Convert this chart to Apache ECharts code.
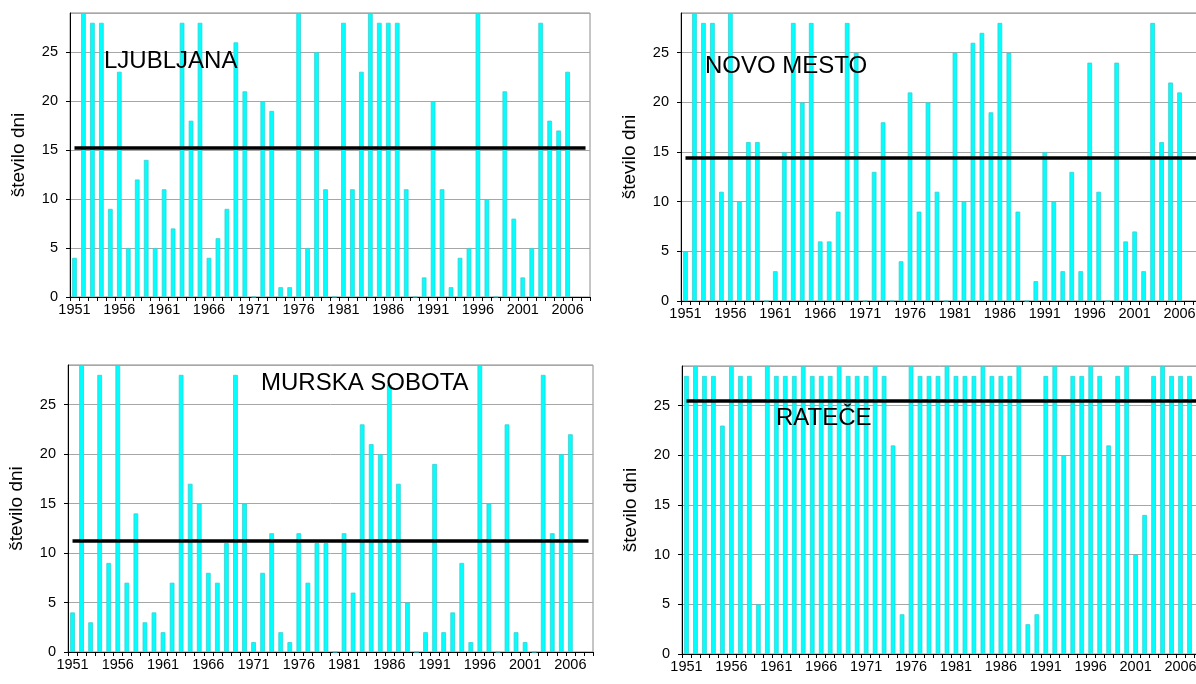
<!DOCTYPE html>
<html><head><meta charset="utf-8">
<script src="https://cdn.jsdelivr.net/npm/echarts@6/dist/echarts.min.js"></script>
<style>html,body{margin:0;padding:0;background:#fff;overflow:hidden}#c{width:1196px;height:684px}</style>
</head><body><div id="c"></div>
<script>
const years = ['1951','1952','1953','1954','1955','1956','1957','1958','1959','1960',
  '1961','1962','1963','1964','1965','1966','1967','1968','1969','1970',
  '1971','1972','1973','1974','1975','1976','1977','1978','1979','1980',
  '1981','1982','1983','1984','1985','1986','1987','1988','1989','1990',
  '1991','1992','1993','1994','1995','1996','1997','1998','1999','2000',
  '2001','2002','2003','2004','2005','2006','2007','2008'];

const ljubljana = [4,29,28,28,9,23,5,12,14,5, 11,7,28,18,28,4,6,9,26,21, 0,20,19,1,1,29,5,25,11,0,
  28,11,23,29,28,28,28,11,0,2, 20,11,1,4,5,29,10,0,21,8, 2,5,28,18,17,23, null,null];
const novoMesto = [5,29,28,28,11,29,10,16,16,0, 3,15,28,20,28,6,6,9,28,25, 0,13,18,0,4,21,9,20,11,0,
  25,10,26,27,19,28,25,9,0,2, 15,10,3,13,3,24,11,0,24,6, 7,3,28,16,22,21, null,null];
const murskaSobota = [4,29,3,28,9,29,7,14,3,4, 2,7,28,17,15,8,7,11,28,15, 1,8,12,2,1,12,7,11,11,0,
  12,6,23,21,20,27,17,5,0,2, 19,2,4,9,1,29,15,0,23,2, 1,0,28,12,20,22, null,null];
const ratece = [28,29,28,28,23,29,28,28,5,29, 28,28,28,29,28,28,28,29,28,28, 28,29,28,21,4,29,28,28,28,29,
  28,28,28,29,28,28,28,29,3,4, 28,29,20,28,28,29,28,21,28,29, 10,14,28,29,28,28,28,null];

const ljubljanaMean = 15.23;
const novoMestoMean = 14.45;
const murskaSobotaMean = 11.2;
const rateceMean = 25.55;

const stationNames = ['LJUBLJANA', 'NOVO MESTO', 'MURSKA SOBOTA', 'RATEČE'];
const yTicks = [0, 5, 10, 15, 20, 25];
const yMax = 29;
const yTitle = 'število dni';

const FONT = "'Liberation Sans', Arial, sans-serif";
const grids = [
  {left: 70, top: 13, width: 520, height: 284},
  {left: 681, top: 13, width: 521, height: 288},
  {left: 68, top: 365, width: 525, height: 287},
  {left: 682, top: 366, width: 521, height: 288}
];
const seriesData = [ljubljana, novoMesto, murskaSobota, ratece];
const means = [ljubljanaMean, novoMestoMean, murskaSobotaMean, rateceMean];

const option = {
  animation: false,
  backgroundColor: '#fff',
  grid: grids.map(g => Object.assign({show: true, borderColor: '#8a8a8a', borderWidth: 1,
    backgroundColor: 'transparent', containLabel: false, outerBoundsMode: 'none'}, g)),
  xAxis: grids.map((g, i) => ({
    type: 'category', gridIndex: i, data: years, boundaryGap: true,
    axisLine: {lineStyle: {color: '#000', width: 1}},
    axisTick: {show: true, interval: 0, length: 4, lineStyle: {color: '#000'}},
    axisLabel: {interval: 4, color: '#000', fontFamily: FONT, fontSize: 14.5, margin: 5, hideOverlap: false},
    splitLine: {show: false}
  })),
  yAxis: grids.map((g, i) => ({
    type: 'value', gridIndex: i, min: 0, max: yMax, interval: 5,
    name: yTitle, nameLocation: 'middle', nameGap: 42, nameRotate: 90,
    nameTextStyle: {color: '#000', fontFamily: FONT, fontSize: 19},
    axisLine: {show: true, lineStyle: {color: '#000', width: 1}},
    axisTick: {show: true, length: 4, lineStyle: {color: '#000'}},
    axisLabel: {color: '#000', fontFamily: FONT, fontSize: 14.5, margin: 12, showMaxLabel: false,
      formatter: v => (yTicks.indexOf(v) >= 0 ? String(v) : '')},
    splitLine: {show: true, lineStyle: {color: '#a6a6a6', width: 1}}
  })),
  series: seriesData.map((d, i) => ({
    type: 'bar', xAxisIndex: i, yAxisIndex: i, data: d, barWidth: '52%',
    itemStyle: {color: '#00ffff', borderColor: '#3ccfcf', borderWidth: 0.8},
    silent: true,
    markLine: {
      silent: true, symbol: 'none', animation: false,
      label: {show: false},
      lineStyle: {color: '#000', width: 3.5, type: 'solid'},
      data: [[{coord: [years[0], means[i]]}, {coord: [years[years.length - 1], means[i]]}]]
    }
  })),
  graphic: [
    {type: 'text', left: 104, top: 49, style: {text: stationNames[0], font: '24px ' + FONT, fill: '#000'}, z: 100},
    {type: 'text', left: 705, top: 54, style: {text: stationNames[1], font: '24px ' + FONT, fill: '#000'}, z: 100},
    {type: 'text', left: 261, top: 371, style: {text: stationNames[2], font: '24px ' + FONT, fill: '#000'}, z: 100},
    {type: 'text', left: 776, top: 406, style: {text: stationNames[3], font: '24px ' + FONT, fill: '#000'}, z: 100}
  ]
};
const chart = echarts.init(document.getElementById('c'), null, {renderer: 'canvas'});
chart.setOption(option);
</script>
</body></html>
